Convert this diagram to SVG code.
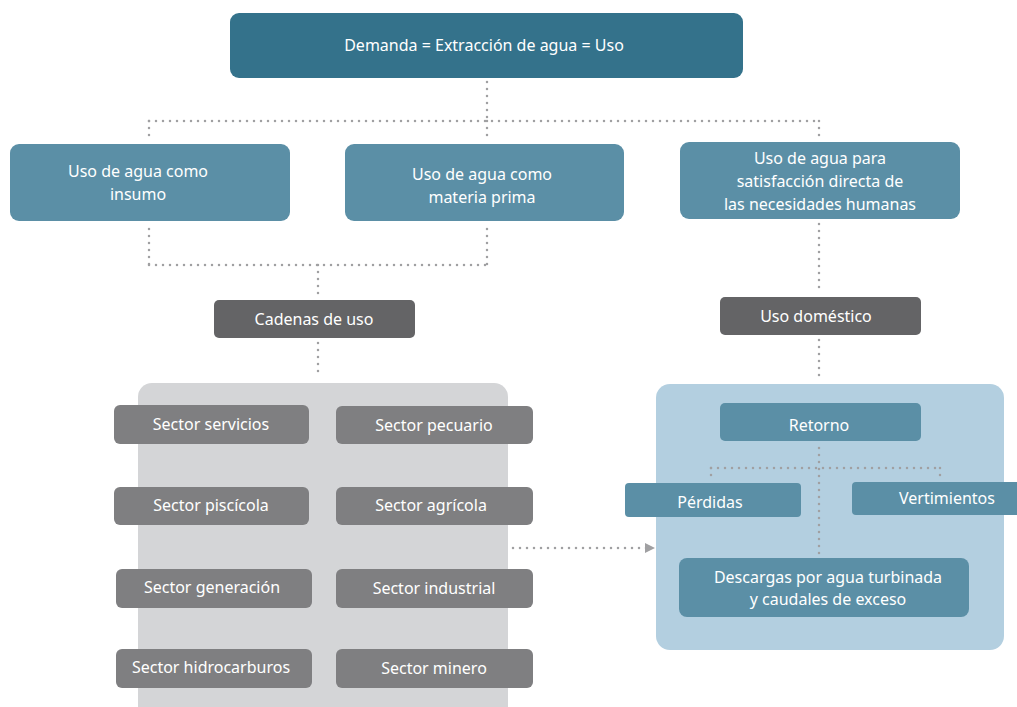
<svg xmlns="http://www.w3.org/2000/svg" width="1017" height="707" viewBox="0 0 1017 707">
<style>
text{font-family:"Noto Sans","Open Sans",sans-serif;font-size:16px;fill:#ffffff;text-anchor:middle}
.top{fill:#34728b}
.blue{fill:#5b8fa6}
.dark{fill:#646466}
.sec{fill:#7f7f81}
.dot{fill:none;stroke:#a0a0a2;stroke-width:2.5;stroke-linecap:round;stroke-dasharray:0 7}
</style>
<defs>
<marker id="arr" viewBox="0 0 10 10" refX="2" refY="5" markerWidth="10" markerHeight="10" markerUnits="userSpaceOnUse" orient="auto">
<path d="M0,0 L10,5 L0,10 z" fill="#a0a0a2"/>
</marker>
</defs>
<rect id="panel-gray" x="138" y="383" width="370" height="340" rx="14" fill="#d4d5d7"/>
<rect id="panel-blue" x="656" y="384" width="348" height="266" rx="14" fill="#b3cfe0"/>
<g id="connectors">
<path class="dot" d="M487,82 V121"/>
<path class="dot" d="M149,121 H819"/>
<path class="dot" d="M149,121 V140"/>
<path class="dot" d="M487,121 V140"/>
<path class="dot" d="M819,121 V140"/>
<path class="dot" d="M149,229 V265"/>
<path class="dot" d="M487,229 V265"/>
<path class="dot" d="M149,265 H487"/>
<path class="dot" d="M318,265 V296"/>
<path class="dot" d="M318,343 V378"/>
<path class="dot" d="M819,224 V294"/>
<path class="dot" d="M819,340 V380"/>
<path class="dot" d="M819,448 V556"/>
<path class="dot" d="M711,468 H940"/>
<path class="dot" d="M711,468 V477"/>
<path class="dot" d="M940,468 V477"/>
<path class="dot" d="M513,548 H647" marker-end="url(#arr)"/>
</g>
<g id="n-demanda"><rect class="top" x="230" y="13" width="513" height="65" rx="9"/><text x="484" y="51">Demanda = Extracción de agua = Uso</text></g>
<g id="n-insumo"><rect class="blue" x="10" y="144" width="280" height="77" rx="9"/><text x="138" y="177">Uso de agua como</text><text x="138" y="200">insumo</text></g>
<g id="n-materia"><rect class="blue" x="345" y="144" width="279" height="77" rx="9"/><text x="482" y="180">Uso de agua como</text><text x="482" y="203">materia prima</text></g>
<g id="n-satisfaccion"><rect class="blue" x="680" y="142" width="280" height="77" rx="9"/><text x="820" y="164">Uso de agua para</text><text x="820" y="187">satisfacción directa de</text><text x="820" y="210">las necesidades humanas</text></g>
<g id="n-cadenas"><rect class="dark" x="214" y="300" width="201" height="38" rx="5"/><text x="314" y="325">Cadenas de uso</text></g>
<g id="n-domestico"><rect class="dark" x="720" y="297" width="201" height="38" rx="5"/><text x="816" y="322">Uso doméstico</text></g>
<g id="n-servicios"><rect class="sec" x="114" y="405" width="195" height="39" rx="6"/><text x="211" y="430">Sector servicios</text></g>
<g id="n-pecuario"><rect class="sec" x="336" y="406" width="197" height="38" rx="6"/><text x="434" y="431">Sector pecuario</text></g>
<g id="n-piscicola"><rect class="sec" x="114" y="487" width="195" height="38" rx="6"/><text x="211" y="511">Sector piscícola</text></g>
<g id="n-agricola"><rect class="sec" x="336" y="487" width="197" height="38" rx="6"/><text x="431" y="511">Sector agrícola</text></g>
<g id="n-generacion"><rect class="sec" x="116" y="569" width="196" height="39" rx="6"/><text x="212" y="593">Sector generación</text></g>
<g id="n-industrial"><rect class="sec" x="336" y="569" width="197" height="39" rx="6"/><text x="434" y="594">Sector industrial</text></g>
<g id="n-hidrocarburos"><rect class="sec" x="116" y="649" width="196" height="39" rx="6"/><text x="211" y="673">Sector hidrocarburos</text></g>
<g id="n-minero"><rect class="sec" x="336" y="649" width="197" height="39" rx="6"/><text x="434" y="674">Sector minero</text></g>
<g id="n-retorno"><rect class="blue" x="720" y="403" width="201" height="38" rx="5"/><text x="819" y="431">Retorno</text></g>
<g id="n-perdidas"><rect class="blue" x="625" y="483" width="176" height="34" rx="4"/><text x="710" y="508">Pérdidas</text></g>
<g id="n-vertimientos"><rect class="blue" x="852" y="482" width="175" height="33" rx="4"/><text x="947" y="504">Vertimientos</text></g>
<g id="n-descargas"><rect class="blue" x="679" y="558" width="290" height="59" rx="8"/><text x="828" y="583">Descargas por agua turbinada</text><text x="828" y="605">y caudales de exceso</text></g>
</svg>
